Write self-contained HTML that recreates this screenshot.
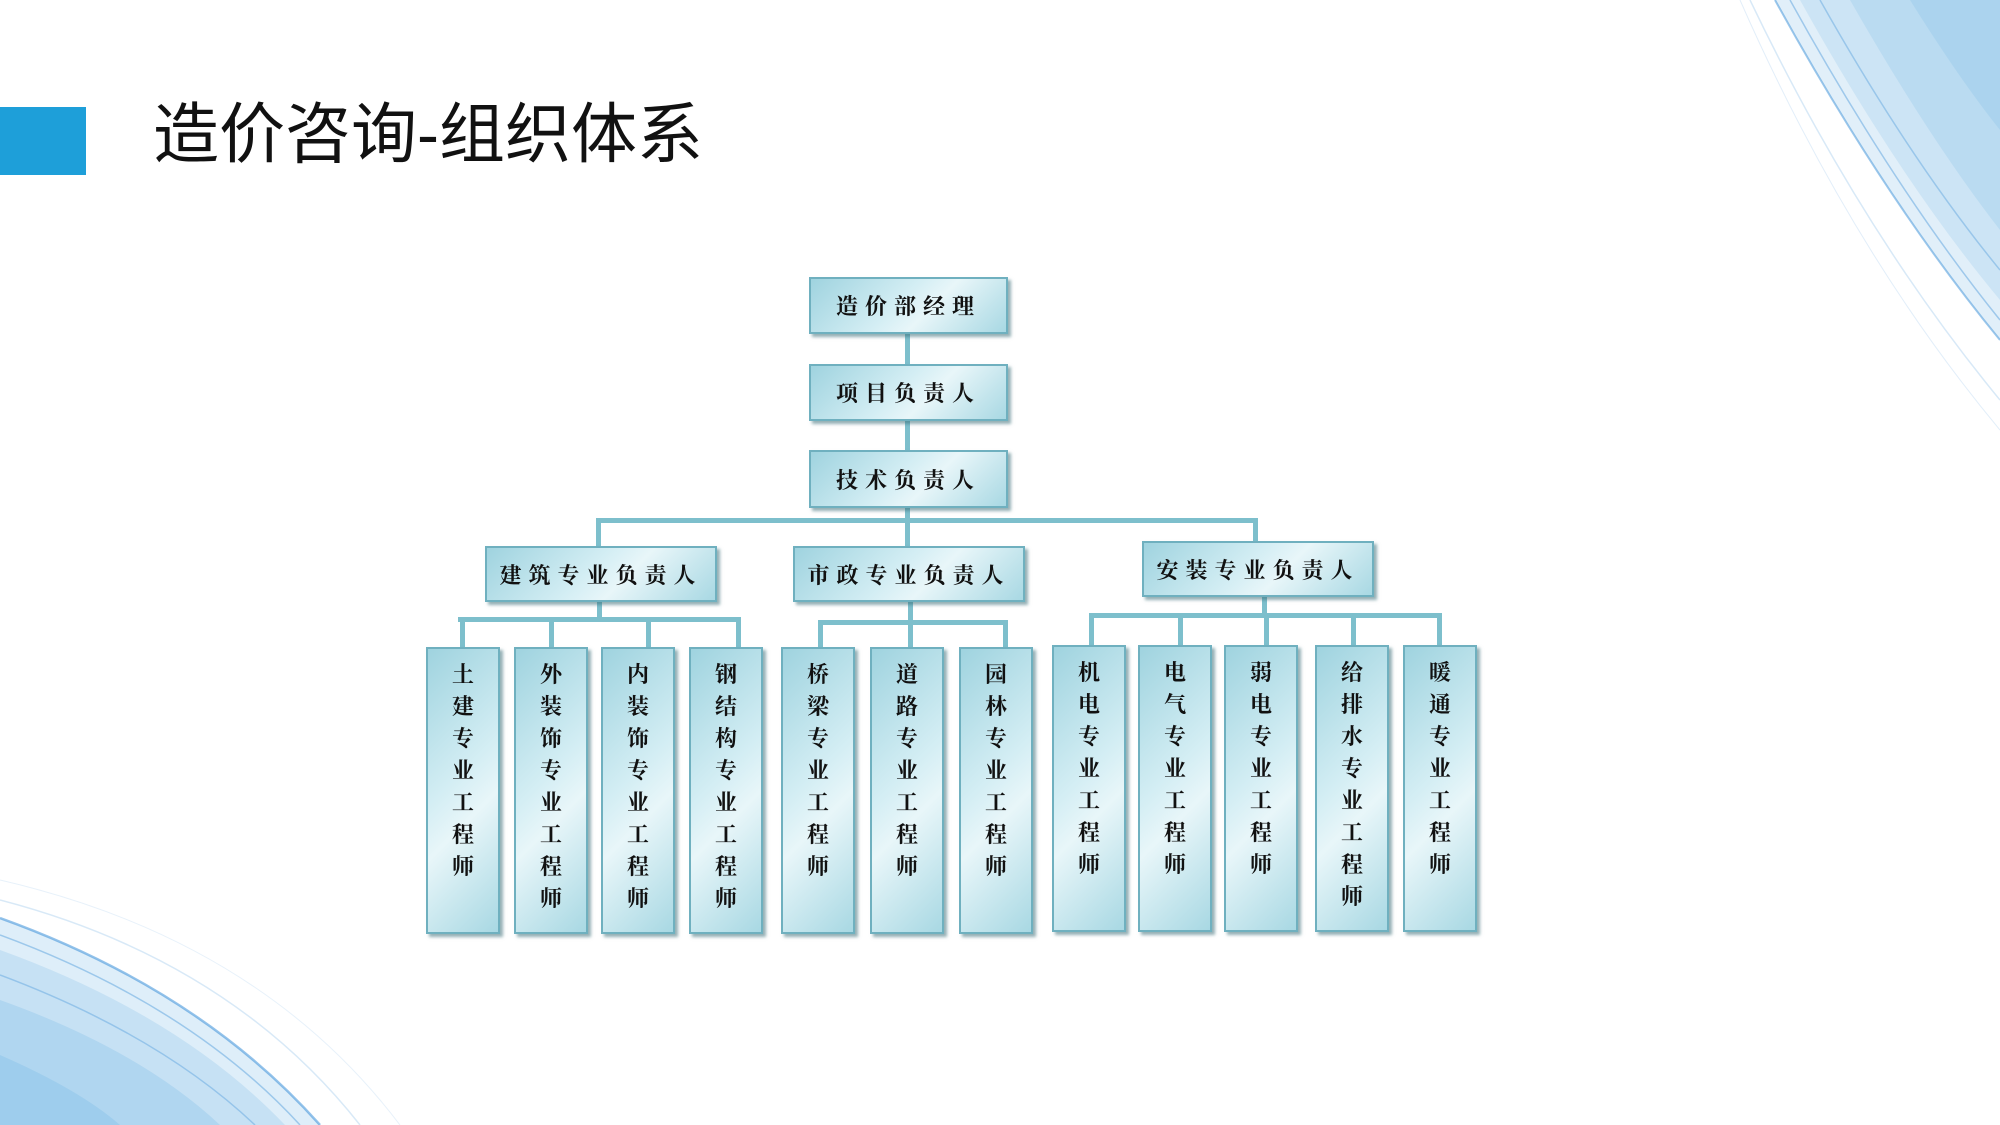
<!DOCTYPE html>
<html><head><meta charset="utf-8">
<style>
body{margin:0;width:2000px;height:1125px;position:relative;background:#fff;overflow:hidden;font-family:"Liberation Serif","Noto Serif CJK SC",serif;}
.b{position:absolute;box-sizing:border-box;background:linear-gradient(135deg,#9fd3df 0%,#d4eef4 45%,#e8f6f9 60%,#a8d8e3 100%);border:2px solid #6fb0bf;box-shadow:3px 3px 3px rgba(60,110,120,.55);color:#111;font-weight:bold;text-align:center;}
.h{font-size:22px;letter-spacing:7px;display:flex;align-items:center;justify-content:center;}
.v{top:647px;width:74px;height:287px;font-size:22px;line-height:32px;padding-top:10px;}
.l{position:absolute;background:#7dbfcc;}
</style></head><body>
<svg width="2000" height="1125" style="position:absolute;left:0;top:0">
<g fill="#5aa8e0">
<path d="M1775 0 Q1885 200 2000 340 L2000 0 Z" opacity=".18"/>
<path d="M1800 0 Q1900 180 2000 300 L2000 0 Z" opacity=".15"/>
<path d="M1850 0 Q1930 140 2000 230 L2000 0 Z" opacity=".15"/>
<path d="M1910 0 Q1960 80 2000 130 L2000 0 Z" opacity=".15"/>
<path d="M0 918 Q200 990 320 1125 L0 1125 Z" opacity=".2"/>
<path d="M0 950 Q180 1015 285 1125 L0 1125 Z" opacity=".18"/>
<path d="M0 1000 Q140 1050 220 1125 L0 1125 Z" opacity=".2"/>
<path d="M0 1055 Q80 1090 120 1125 L0 1125 Z" opacity=".2"/>
</g>
<g fill="none" stroke="#3a8fd8">
<path d="M1775 0 Q1885 200 2000 340" stroke-width="2" opacity=".5"/>
<path d="M1790 0 Q1895 190 2000 320" stroke-width="1.5" opacity=".4"/>
<path d="M1820 0 Q1910 160 2000 270" stroke-width="1.5" opacity=".35"/>
<path d="M1750 0 Q1860 230 2000 400" stroke-width="1.5" opacity=".2"/>
<path d="M1740 0 Q1850 250 2000 430" stroke-width="1" opacity=".15"/>
<path d="M0 918 Q200 990 320 1125" stroke-width="2.5" opacity=".55"/>
<path d="M0 935 Q190 1005 300 1125" stroke-width="1.5" opacity=".4"/>
<path d="M0 975 Q160 1035 255 1125" stroke-width="1.5" opacity=".35"/>
<path d="M0 900 Q230 960 360 1125" stroke-width="1.5" opacity=".2"/>
<path d="M0 880 Q260 940 400 1125" stroke-width="1" opacity=".12"/>
</g></svg>
<div style="position:absolute;left:0;top:107px;width:86px;height:68px;background:#1e9fd9"></div>
<div style="position:absolute;left:153px;top:95px;font-family:'Liberation Sans','Noto Sans CJK SC',sans-serif;font-size:66px;line-height:78px;color:#111">造价咨询-组织体系</div>

<div class="l" style="left:905px;top:334px;width:5px;height:186px"></div>
<div class="l" style="left:596px;top:518px;width:662px;height:5px"></div>
<div class="l" style="left:596px;top:518px;width:5px;height:30px"></div>
<div class="l" style="left:1253px;top:518px;width:5px;height:26px"></div>
<div class="l" style="left:905px;top:518px;width:5px;height:30px"></div>

<div class="b h" style="left:809px;top:277px;width:199px;height:57px">造价部经理</div>
<div class="b h" style="left:809px;top:364px;width:199px;height:57px">项目负责人</div>
<div class="b h" style="left:809px;top:450px;width:199px;height:58px">技术负责人</div>

<div class="l" style="left:597px;top:600px;width:5px;height:20px"></div>
<div class="l" style="left:458px;top:617px;width:283px;height:5px"></div>
<div class="l" style="left:908px;top:600px;width:5px;height:22px"></div>
<div class="l" style="left:818px;top:620px;width:190px;height:5px"></div>
<div class="l" style="left:1262px;top:595px;width:5px;height:20px"></div>
<div class="l" style="left:1089px;top:613px;width:352px;height:5px"></div>

<div class="l" style="left:460px;top:617px;width:5px;height:32px"></div>
<div class="l" style="left:549px;top:617px;width:5px;height:32px"></div>
<div class="l" style="left:646px;top:617px;width:5px;height:32px"></div>
<div class="l" style="left:736px;top:617px;width:5px;height:32px"></div>
<div class="l" style="left:818px;top:620px;width:5px;height:29px"></div>
<div class="l" style="left:908px;top:620px;width:5px;height:29px"></div>
<div class="l" style="left:1003px;top:620px;width:5px;height:29px"></div>
<div class="l" style="left:1089px;top:613px;width:5px;height:34px"></div>
<div class="l" style="left:1178px;top:613px;width:5px;height:34px"></div>
<div class="l" style="left:1264px;top:613px;width:5px;height:34px"></div>
<div class="l" style="left:1351px;top:613px;width:5px;height:34px"></div>
<div class="l" style="left:1437px;top:613px;width:5px;height:34px"></div>

<div class="b h" style="left:485px;top:546px;width:232px;height:56px">建筑专业负责人</div>
<div class="b h" style="left:793px;top:546px;width:232px;height:56px">市政专业负责人</div>
<div class="b h" style="left:1142px;top:541px;width:232px;height:56px">安装专业负责人</div>

<div class="b v" style="left:426px">土<br>建<br>专<br>业<br>工<br>程<br>师</div>
<div class="b v" style="left:514px">外<br>装<br>饰<br>专<br>业<br>工<br>程<br>师</div>
<div class="b v" style="left:601px">内<br>装<br>饰<br>专<br>业<br>工<br>程<br>师</div>
<div class="b v" style="left:689px">钢<br>结<br>构<br>专<br>业<br>工<br>程<br>师</div>
<div class="b v" style="left:781px">桥<br>梁<br>专<br>业<br>工<br>程<br>师</div>
<div class="b v" style="left:870px">道<br>路<br>专<br>业<br>工<br>程<br>师</div>
<div class="b v" style="left:959px">园<br>林<br>专<br>业<br>工<br>程<br>师</div>
<div class="b v" style="left:1052px;top:645px">机<br>电<br>专<br>业<br>工<br>程<br>师</div>
<div class="b v" style="left:1138px;top:645px">电<br>气<br>专<br>业<br>工<br>程<br>师</div>
<div class="b v" style="left:1224px;top:645px">弱<br>电<br>专<br>业<br>工<br>程<br>师</div>
<div class="b v" style="left:1315px;top:645px">给<br>排<br>水<br>专<br>业<br>工<br>程<br>师</div>
<div class="b v" style="left:1403px;top:645px">暖<br>通<br>专<br>业<br>工<br>程<br>师</div>
</body></html>
